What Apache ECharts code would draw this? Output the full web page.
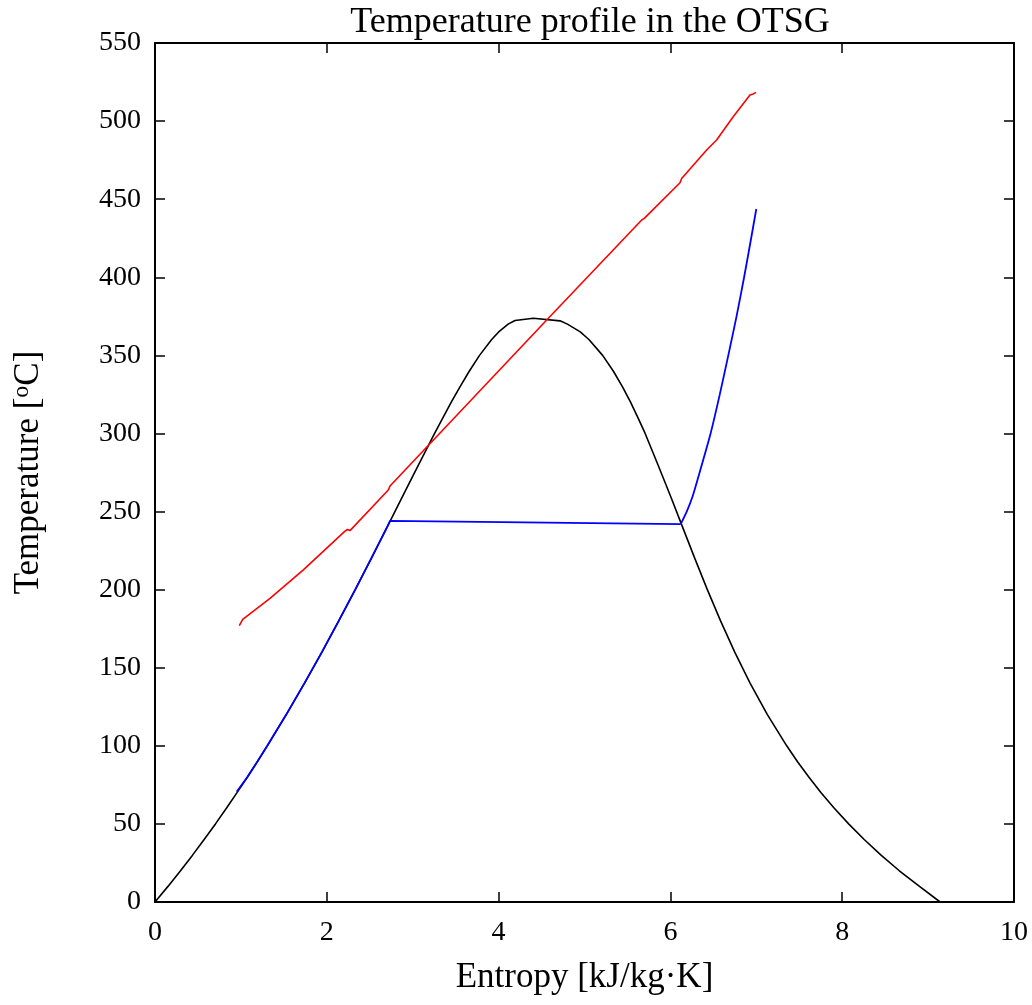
<!DOCTYPE html>
<html>
<head>
<meta charset="utf-8">
<script src="https://cdn.jsdelivr.net/npm/echarts@6/dist/echarts.min.js"></script>
<style>
html,body{margin:0;padding:0;background:#fff;}
#chart{width:1032px;height:1005px;}
</style>
</head>
<body>
<div id="chart"></div>
<script>
// Saturation dome (black): entropy [kJ/kg K], temperature [C]
const domeS = [0.0, 0.151, 0.297, 0.437, 0.572, 0.704, 0.831, 0.955, 1.076, 1.193, 1.307, 1.528, 1.739, 1.943, 2.139, 2.331, 2.518, 2.702, 2.885, 3.069, 3.255, 3.351, 3.449, 3.552, 3.660, 3.778, 3.917, 4.001, 4.111, 4.191, 4.404, 4.715, 4.801, 4.951, 5.054, 5.211, 5.335, 5.441, 5.536, 5.623, 5.706, 5.855, 6.001, 6.142, 6.284, 6.430, 6.584, 6.749, 6.929, 7.129, 7.354, 7.478, 7.611, 7.754, 7.908, 8.075, 8.256, 8.452, 8.665, 8.900, 9.140];
const domeT = [0, 10, 20, 30, 40, 50, 60, 70, 80, 90, 100, 120, 140, 160, 180, 200, 220, 240, 260, 280, 300, 310, 320, 330, 340, 350, 360, 365, 370, 372.3, 373.8, 372.1, 370, 365, 360, 350, 340, 330, 320, 310, 300, 280, 260, 240, 220, 200, 180, 160, 140, 120, 100, 90, 80, 70, 60, 50, 40, 30, 20, 10, 0];

// Water side (blue): compressed liquid heating, then evaporation
const waterS = [0.951, 1.076, 1.193, 1.307, 1.528, 1.739, 1.943, 2.139, 2.331, 2.518, 2.702, 2.736, 6.120];
const waterT = [70.6, 80, 90, 100, 120, 140, 160, 180, 200, 220, 240, 244, 242];

// Steam side (blue): superheating
const steamS = [6.120, 6.190, 6.260, 6.340, 6.468, 6.575, 6.674, 6.770, 6.858, 6.940, 7.000];
const steamT = [242, 250, 260, 275, 300, 325, 350, 375, 400, 425, 443.7];

// Hot side (red)
const hotS = [0.981, 1.021, 1.339, 1.727, 2.212, 2.240, 2.270, 2.716, 2.736, 4.560, 5.666, 5.696, 6.112, 6.131, 6.422, 6.538, 6.731, 6.926, 6.965, 6.997];
const hotT = [176.9, 181.0, 194.4, 212.6, 237.5, 238.5, 237.8, 263.8, 266.4, 372.6, 436.7, 437.7, 460.5, 463.3, 481.5, 487.9, 502.8, 516.7, 517.4, 518.4];

const xTicks = [0, 2, 4, 6, 8, 10];
const yTicks = [0, 50, 100, 150, 200, 250, 300, 350, 400, 450, 500, 550];

const FONT = 'Liberation Serif';
const zip = (a, b) => a.map((v, i) => [v, b[i]]);

const chart = echarts.init(document.getElementById('chart'), null, {renderer: 'canvas'});

const axisCommon = {
  axisLine: {show: true, onZero: false, lineStyle: {color: '#000', width: 2}},
  axisTick: {show: true, inside: true, length: 10, lineStyle: {color: '#000', width: 1.5}},
  splitLine: {show: false}
};

chart.setOption({
  backgroundColor: '#fff',
  animation: false,
  title: {
    text: 'Temperature profile in the OTSG',
    left: 585, top: 0, textAlign: 'center',
    textStyle: {fontFamily: FONT, fontSize: 36, fontWeight: 'normal', color: '#000'}
  },
  grid: {left: 155, right: 18, top: 43, bottom: 103, containLabel: false, outerBoundsMode: 'none'},
  xAxis: [
    Object.assign({
      type: 'value', min: xTicks[0], max: xTicks[xTicks.length - 1], interval: 2, position: 'bottom',
      axisLabel: {margin: 17, fontFamily: FONT, fontSize: 28, color: '#000'},
      name: 'Entropy [kJ/kg·K]', nameLocation: 'middle', nameGap: 58,
      nameTextStyle: {fontFamily: FONT, fontSize: 35, color: '#000'}
    }, axisCommon),
    Object.assign({
      type: 'value', min: xTicks[0], max: xTicks[xTicks.length - 1], interval: 2, position: 'top',
      axisLabel: {show: false}
    }, axisCommon)
  ],
  yAxis: [
    Object.assign({
      type: 'value', min: yTicks[0], max: yTicks[yTicks.length - 1], interval: 50, position: 'left',
      axisLabel: {margin: 14, fontFamily: FONT, fontSize: 28, color: '#000'},
      name: '{a|Temperature [}{s|o}{a|C]}', nameLocation: 'middle', nameGap: 107, nameRotate: 90,
      nameTextStyle: {
        fontFamily: FONT, fontSize: 35, color: '#000',
        rich: {
          a: {fontFamily: FONT, fontSize: 35, color: '#000', lineHeight: 38},
          s: {fontFamily: FONT, fontSize: 24, color: '#000', lineHeight: 38, verticalAlign: 'top', padding: [0, 0, 12, 0]}
        }
      }
    }, axisCommon),
    Object.assign({
      type: 'value', min: yTicks[0], max: yTicks[yTicks.length - 1], interval: 50, position: 'right',
      axisLabel: {show: false}
    }, axisCommon)
  ],
  series: [
    {type: 'line', data: zip(domeS, domeT), showSymbol: false, symbol: 'none', lineStyle: {color: '#000', width: 1.6}, z: 2},
    {type: 'line', data: zip(waterS, waterT), showSymbol: false, symbol: 'none', lineStyle: {color: '#0000ff', width: 1.8}, z: 3},
    {type: 'line', data: zip(steamS, steamT), showSymbol: false, symbol: 'none', smooth: 0.2, lineStyle: {color: '#0000ff', width: 1.8}, z: 3},
    {type: 'line', data: zip(hotS, hotT), showSymbol: false, symbol: 'none', lineStyle: {color: '#ff0000', width: 1.6}, z: 4}
  ]
});
</script>
</body>
</html>
